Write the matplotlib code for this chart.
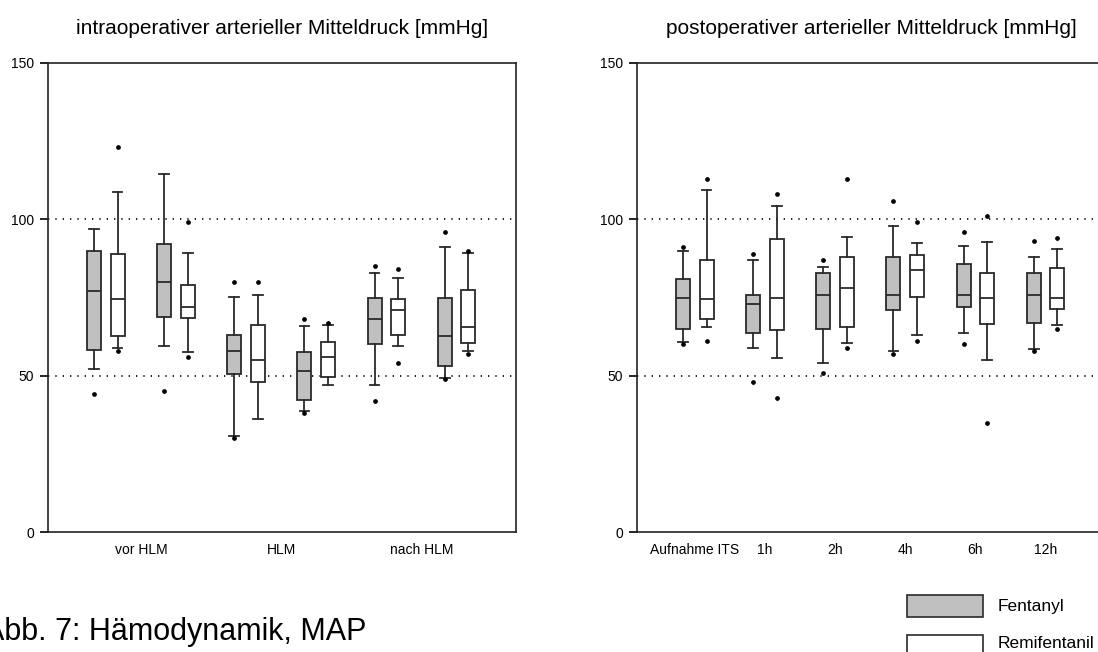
import matplotlib
matplotlib.use('Agg')
import matplotlib.pyplot as plt
from matplotlib.patches import Rectangle

plt.rcParams['font.family'] = ['Liberation Sans', 'DejaVu Sans']

# intraoperativ: 6 Messzeitpunkte (2 je Phase)
intra_labels = ['vor HLM', 'HLM', 'nach HLM']
# whislo, q1, med, q3, whishi
intra_fent = [
    [52.0, 58.1, 77.0, 90.0, 97.0],
    [59.5, 68.8, 80.0, 92.0, 114.5],
    [30.8, 50.5, 58.0, 63.0, 75.3],
    [38.8, 42.2, 51.5, 57.7, 65.9],
    [47.0, 60.0, 68.0, 75.0, 82.9],
    [49.4, 53.1, 62.6, 74.7, 91.1],
]
intra_fent_out = [[44], [45], [80, 30], [68, 38.2], [85, 42], [96, 49]]
intra_remi = [
    [58.9, 62.7, 74.5, 89.0, 108.6],
    [57.7, 68.3, 71.9, 78.9, 89.3],
    [36.0, 48.0, 55.0, 66.1, 75.9],
    [47.0, 49.5, 56.0, 60.8, 66.3],
    [59.5, 63.0, 71.0, 74.4, 81.3],
    [57.9, 60.3, 65.5, 77.3, 89.3],
]
intra_remi_out = [[123, 58], [99, 56], [80], [67], [84, 54], [90, 57]]

# postoperativ
post_labels = ['Aufnahme ITS', '1h', '2h', '4h', '6h', '12h']
post_fent = [
    [60.9, 64.8, 74.9, 80.9, 90.0],
    [58.8, 63.7, 72.8, 75.9, 87.0],
    [53.9, 64.8, 75.8, 82.9, 84.8],
    [57.9, 70.9, 75.8, 87.9, 97.9],
    [63.5, 71.9, 75.8, 85.6, 91.4],
    [58.5, 66.9, 75.8, 82.9, 87.9],
]
post_fent_out = [[91, 60], [89, 48], [87, 51], [106, 57], [96, 60], [93, 58]]
post_remi = [
    [65.5, 68.1, 74.4, 87.0, 109.3],
    [55.5, 64.6, 74.9, 93.8, 104.2],
    [60.5, 65.5, 77.9, 87.9, 94.4],
    [63.0, 75.2, 83.9, 88.7, 92.5],
    [54.9, 66.4, 74.9, 82.9, 92.8],
    [66.1, 71.4, 74.9, 84.3, 90.6],
]
post_remi_out = [[113, 61], [108, 43], [113, 59], [99, 61], [101, 35], [94, 65]]

edge = '#2a2a2a'
grey = '#c0c0c0'


def stats(vals, outs):
    res = []
    for v, o in zip(vals, outs):
        res.append(dict(whislo=v[0], q1=v[1], med=v[2], q3=v[3], whishi=v[4], fliers=o))
    return res


def draw(ax, fent, fent_out, remi, remi_out):
    pos = range(1, len(fent) + 1)
    for data, outs, off, fc in [(fent, fent_out, -0.167, grey), (remi, remi_out, 0.167, 'white')]:
        ax.bxp(stats(data, outs), positions=[p + off for p in pos], widths=0.2,
               capwidths=0.14, patch_artist=True,
               boxprops=dict(facecolor=fc, edgecolor=edge, linewidth=1.3),
               medianprops=dict(color=edge, linewidth=1.3),
               whiskerprops=dict(color=edge, linewidth=1.3),
               capprops=dict(color=edge, linewidth=1.3),
               flierprops=dict(marker='o', markersize=2.4, markerfacecolor='black',
                               markeredgecolor='black'))
    for y in (50, 100):
        ax.axhline(y, color='black', linestyle=(0, (0.8, 3.6)), linewidth=1.2, zorder=0)
    ax.set_xlim(0.175, 6.85)
    ax.set_ylim(0, 150)
    ax.set_yticks([0, 50, 100, 150])
    for s in ax.spines.values():
        s.set_linewidth(1.2)
        s.set_color('#222222')
    ax.tick_params(axis='y', length=6, width=1.2, pad=4, labelsize=10)
    ax.tick_params(axis='x', length=0, pad=8, labelsize=10)


fig = plt.figure(figsize=(10.98, 6.52), dpi=100)
W, H = 1098, 652
ax1 = fig.add_axes([48 / W, (H - 532) / H, 468 / W, 469 / H])
ax2 = fig.add_axes([637 / W, (H - 532) / H, 468 / W, 469 / H])

draw(ax1, intra_fent, intra_fent_out, intra_remi, intra_remi_out)
ax1.set_xticks([1.5, 3.5, 5.5])
ax1.set_xticklabels(intra_labels)
ax1.set_title('intraoperativer arterieller Mitteldruck [mmHg]', fontsize=15, pad=21)

draw(ax2, post_fent, post_fent_out, post_remi, post_remi_out)
ax2.set_xticks([1, 2, 3, 4, 5, 6])
ax2.set_xticklabels(post_labels)
ax2.set_title('postoperativer arterieller Mitteldruck [mmHg]', fontsize=15, pad=21)

# Legende
fig.patches.append(Rectangle((907 / W, (H - 617) / H), 76 / W, 22 / H, transform=fig.transFigure,
                             facecolor=grey, edgecolor=edge, linewidth=1.2))
fig.patches.append(Rectangle((907 / W, (H - 657) / H), 76 / W, 22 / H, transform=fig.transFigure,
                             facecolor='white', edgecolor=edge, linewidth=1.2))
fig.text(998 / W, (H - 606) / H, 'Fentanyl', fontsize=12.5, va='center')
fig.text(998 / W, (H - 643) / H, 'Remifentanil', fontsize=12.5, va='center')

fig.text(-16 / W, (H - 640) / H, 'Abb. 7: Hämodynamik, MAP', fontsize=22, va='baseline')

fig.savefig('out.png', dpi=100)
